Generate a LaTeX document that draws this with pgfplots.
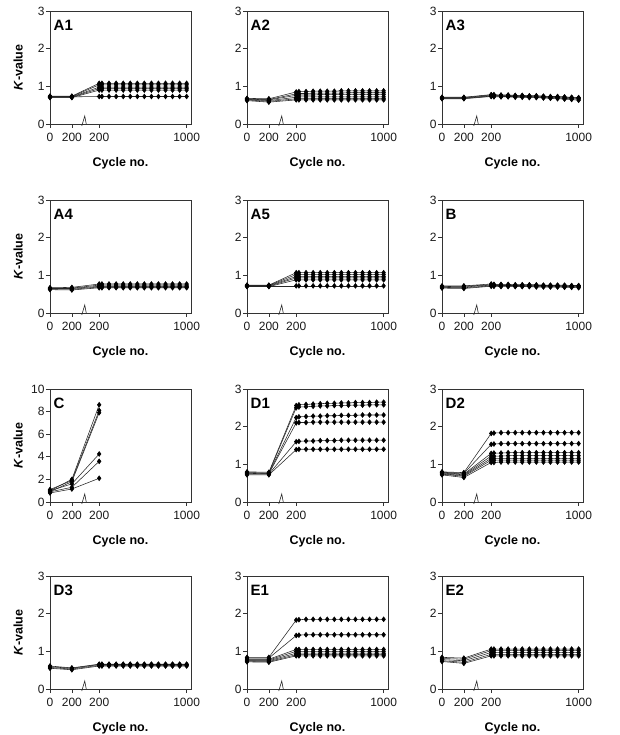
\documentclass[border=0pt]{standalone}
\usepackage{fontspec}
\setmainfont{Liberation Sans}
\usepackage{pgfplots}
\usepackage{pgfplotstable}
\pgfplotsset{compat=1.18}

% x = axis position: 0 and 200 before the break; cycle+250 after the break
\pgfplotstableread{
x s1 s2 s3 s4 s5 s6
0 0.74 0.73 0.72 0.71 0.70 0.72
200 0.74 0.73 0.72 0.71 0.70 0.72
450 1.08 1.04 0.98 0.94 0.90 0.73
475 1.08 1.04 0.98 0.94 0.90 0.73
540 1.08 1.04 0.98 0.94 0.90 0.73
605 1.08 1.04 0.98 0.94 0.90 0.73
670 1.08 1.04 0.98 0.94 0.90 0.73
734 1.08 1.04 0.98 0.94 0.90 0.73
799 1.08 1.04 0.98 0.94 0.90 0.73
863 1.08 1.04 0.98 0.94 0.90 0.73
928 1.08 1.04 0.98 0.94 0.90 0.73
992 1.08 1.04 0.98 0.94 0.90 0.73
1057 1.08 1.04 0.98 0.94 0.90 0.73
1121 1.08 1.04 0.98 0.94 0.90 0.73
1186 1.08 1.04 0.98 0.94 0.90 0.73
1250 1.08 1.04 0.98 0.94 0.90 0.73
}\tAone
\pgfplotstableread{
x s1 s2 s3 s4 s5 s6
0 0.68 0.67 0.66 0.65 0.64 0.62
200 0.67 0.65 0.64 0.62 0.60 0.58
450 0.85 0.80 0.76 0.71 0.67 0.64
475 0.86 0.81 0.77 0.72 0.67 0.64
540 0.86 0.81 0.77 0.72 0.67 0.64
605 0.87 0.82 0.77 0.72 0.67 0.64
670 0.87 0.82 0.78 0.72 0.67 0.64
734 0.87 0.82 0.78 0.72 0.67 0.64
799 0.87 0.82 0.78 0.72 0.67 0.64
863 0.88 0.82 0.78 0.72 0.67 0.64
928 0.88 0.83 0.78 0.72 0.67 0.64
992 0.88 0.83 0.78 0.72 0.67 0.64
1057 0.88 0.83 0.78 0.72 0.67 0.64
1121 0.88 0.83 0.78 0.72 0.67 0.64
1186 0.88 0.83 0.78 0.72 0.67 0.64
1250 0.88 0.83 0.78 0.72 0.67 0.64
}\tAtwo
\pgfplotstableread{
x s1 s2 s3 s4 s5
0 0.71 0.70 0.69 0.68 0.67
200 0.71 0.70 0.69 0.68 0.67
450 0.78 0.77 0.75 0.74 0.73
475 0.78 0.76 0.75 0.74 0.72
540 0.77 0.76 0.75 0.73 0.72
605 0.77 0.76 0.74 0.73 0.72
670 0.76 0.75 0.74 0.73 0.71
734 0.76 0.75 0.73 0.72 0.71
799 0.75 0.74 0.73 0.72 0.70
863 0.75 0.74 0.72 0.71 0.70
928 0.74 0.73 0.72 0.70 0.69
992 0.73 0.72 0.71 0.70 0.68
1057 0.73 0.72 0.70 0.69 0.67
1121 0.72 0.71 0.69 0.68 0.66
1186 0.71 0.70 0.69 0.67 0.65
1250 0.70 0.69 0.68 0.66 0.63
}\tAthree
\pgfplotstableread{
x s1 s2 s3 s4 s5
0 0.67 0.66 0.65 0.64 0.62
200 0.68 0.66 0.65 0.63 0.61
450 0.77 0.74 0.71 0.69 0.67
475 0.77 0.74 0.71 0.69 0.67
540 0.77 0.74 0.71 0.69 0.67
605 0.77 0.74 0.71 0.69 0.67
670 0.77 0.74 0.71 0.69 0.67
734 0.77 0.74 0.71 0.69 0.67
799 0.77 0.74 0.71 0.69 0.67
863 0.77 0.74 0.71 0.69 0.67
928 0.77 0.74 0.71 0.69 0.67
992 0.77 0.74 0.71 0.69 0.67
1057 0.77 0.74 0.71 0.69 0.67
1121 0.77 0.74 0.71 0.69 0.67
1186 0.77 0.74 0.71 0.69 0.67
1250 0.77 0.74 0.71 0.69 0.67
}\tAfour
\pgfplotstableread{
x s1 s2 s3 s4 s5 s6
0 0.74 0.73 0.72 0.71 0.70 0.72
200 0.74 0.73 0.72 0.71 0.70 0.72
450 1.07 1.02 0.97 0.93 0.88 0.72
475 1.07 1.02 0.97 0.93 0.88 0.72
540 1.07 1.02 0.97 0.93 0.88 0.72
605 1.07 1.02 0.97 0.93 0.88 0.72
670 1.07 1.02 0.97 0.93 0.88 0.72
734 1.07 1.02 0.97 0.93 0.88 0.72
799 1.07 1.02 0.97 0.93 0.88 0.72
863 1.07 1.02 0.97 0.93 0.88 0.72
928 1.07 1.02 0.97 0.93 0.88 0.72
992 1.07 1.02 0.97 0.93 0.88 0.72
1057 1.07 1.02 0.97 0.93 0.88 0.72
1121 1.07 1.02 0.97 0.93 0.88 0.72
1186 1.07 1.02 0.97 0.93 0.88 0.72
1250 1.07 1.02 0.97 0.93 0.88 0.72
}\tAfive
\pgfplotstableread{
x s1 s2 s3 s4 s5
0 0.72 0.70 0.69 0.68 0.66
200 0.72 0.71 0.69 0.67 0.65
450 0.77 0.75 0.74 0.72 0.71
475 0.76 0.75 0.73 0.72 0.71
540 0.76 0.75 0.73 0.72 0.70
605 0.76 0.74 0.73 0.72 0.70
670 0.75 0.74 0.73 0.71 0.70
734 0.75 0.74 0.73 0.71 0.70
799 0.75 0.74 0.72 0.71 0.70
863 0.75 0.73 0.72 0.71 0.69
928 0.74 0.73 0.72 0.71 0.69
992 0.74 0.73 0.72 0.70 0.69
1057 0.74 0.73 0.72 0.70 0.69
1121 0.74 0.72 0.71 0.70 0.68
1186 0.73 0.72 0.71 0.70 0.68
1250 0.73 0.72 0.71 0.69 0.67
}\tB
\pgfplotstableread{
x s1 s2 s3 s4 s5 s6
0 1.00 1.10 0.90 1.00 0.90 0.80
200 2.00 1.90 1.80 1.60 1.30 1.15
450 8.60 8.10 7.90 4.25 3.60 2.10
}\tC
\pgfplotstableread{
x s1 s2 s3 s4 s5 s6
0 0.80 0.78 0.77 0.76 0.74 0.72
200 0.79 0.77 0.76 0.75 0.74 0.72
450 2.56 2.50 2.24 2.10 1.60 1.39
475 2.58 2.52 2.26 2.11 1.61 1.40
540 2.59 2.53 2.27 2.11 1.62 1.40
605 2.60 2.54 2.28 2.12 1.62 1.40
670 2.61 2.55 2.28 2.12 1.63 1.40
734 2.62 2.55 2.29 2.12 1.63 1.40
799 2.62 2.56 2.29 2.12 1.63 1.40
863 2.63 2.56 2.30 2.12 1.64 1.40
928 2.63 2.57 2.30 2.12 1.64 1.40
992 2.64 2.57 2.30 2.12 1.64 1.40
1057 2.64 2.57 2.31 2.12 1.64 1.40
1121 2.64 2.58 2.31 2.12 1.64 1.40
1186 2.65 2.58 2.31 2.12 1.64 1.40
1250 2.65 2.58 2.31 2.12 1.64 1.40
}\tDone
\pgfplotstableread{
x s1 s2 s3 s4 s5 s6 s7
0 0.80 0.79 0.78 0.77 0.75 0.74 0.72
200 0.78 0.76 0.74 0.72 0.70 0.68 0.65
450 1.82 1.53 1.29 1.22 1.16 1.11 1.05
475 1.83 1.54 1.30 1.22 1.16 1.11 1.05
540 1.84 1.55 1.30 1.22 1.16 1.11 1.06
605 1.84 1.55 1.31 1.23 1.16 1.11 1.06
670 1.84 1.55 1.31 1.23 1.16 1.11 1.06
734 1.84 1.55 1.31 1.23 1.16 1.11 1.06
799 1.84 1.55 1.31 1.23 1.16 1.11 1.06
863 1.84 1.55 1.31 1.23 1.16 1.11 1.06
928 1.84 1.55 1.31 1.23 1.16 1.11 1.06
992 1.84 1.55 1.31 1.23 1.16 1.11 1.06
1057 1.84 1.55 1.31 1.23 1.16 1.11 1.06
1121 1.84 1.55 1.31 1.23 1.16 1.11 1.06
1186 1.84 1.55 1.31 1.23 1.16 1.11 1.06
1250 1.84 1.55 1.31 1.23 1.16 1.11 1.06
}\tDtwo
\pgfplotstableread{
x s1 s2 s3 s4
0 0.61 0.59 0.57 0.55
200 0.56 0.55 0.53 0.51
450 0.66 0.65 0.63 0.61
475 0.66 0.65 0.63 0.61
540 0.66 0.65 0.63 0.61
605 0.66 0.65 0.63 0.61
670 0.66 0.65 0.63 0.61
734 0.66 0.65 0.63 0.61
799 0.66 0.65 0.63 0.61
863 0.66 0.65 0.63 0.61
928 0.66 0.65 0.63 0.61
992 0.66 0.65 0.63 0.61
1057 0.66 0.65 0.63 0.61
1121 0.66 0.65 0.63 0.61
1186 0.66 0.65 0.63 0.61
1250 0.66 0.65 0.63 0.61
}\tDthree
\pgfplotstableread{
x s1 s2 s3 s4 s5 s6 s7
0 0.84 0.82 0.79 0.77 0.75 0.74 0.72
200 0.84 0.82 0.79 0.77 0.75 0.73 0.71
450 1.83 1.42 1.05 1.00 0.95 0.91 0.88
475 1.84 1.43 1.05 1.00 0.95 0.91 0.88
540 1.85 1.44 1.05 1.00 0.95 0.91 0.88
605 1.85 1.44 1.05 1.00 0.95 0.91 0.88
670 1.85 1.44 1.05 1.00 0.95 0.91 0.88
734 1.85 1.44 1.05 1.00 0.95 0.91 0.88
799 1.85 1.44 1.05 1.00 0.95 0.91 0.88
863 1.85 1.44 1.05 1.00 0.95 0.91 0.88
928 1.85 1.44 1.05 1.00 0.95 0.91 0.88
992 1.85 1.44 1.05 1.00 0.95 0.91 0.88
1057 1.85 1.44 1.05 1.00 0.95 0.91 0.88
1121 1.85 1.44 1.05 1.00 0.95 0.91 0.88
1186 1.85 1.44 1.05 1.00 0.95 0.91 0.88
1250 1.85 1.44 1.05 1.00 0.95 0.91 0.88
}\tEone
\pgfplotstableread{
x s1 s2 s3 s4 s5
0 0.84 0.81 0.78 0.75 0.73
200 0.82 0.79 0.75 0.71 0.68
450 1.06 1.02 0.97 0.92 0.88
475 1.06 1.02 0.97 0.92 0.88
540 1.06 1.02 0.97 0.92 0.88
605 1.06 1.02 0.97 0.92 0.88
670 1.06 1.02 0.97 0.92 0.88
734 1.06 1.02 0.97 0.92 0.88
799 1.06 1.02 0.97 0.92 0.88
863 1.06 1.02 0.97 0.92 0.88
928 1.06 1.02 0.97 0.92 0.88
992 1.06 1.02 0.97 0.92 0.88
1057 1.06 1.02 0.97 0.92 0.88
1121 1.06 1.02 0.97 0.92 0.88
1186 1.06 1.02 0.97 0.92 0.88
1250 1.06 1.02 0.97 0.92 0.88
}\tEtwo

\pgfplotsset{
  panel/.style={
    scale only axis, width=141pt, height=113pt,
    anchor=south west,
    xmin=0, xmax=1290, ymin=0, ymax=3,
    xtick={0,200,450,1250}, xticklabels={0,200,200,1000},
    ytick={0,1,2,3},
    tick pos=left, tick align=outside, major tick length=4pt,
    axis line style={line width=0.7pt, black!80},
    every tick/.style={line width=0.7pt, black!80},
    /pgf/number format/assume math mode=true,
    ticklabel style={font=\fontsize{12}{14}\selectfont, text=black!90},
    xticklabel style={yshift=-1.5pt},
    yticklabel style={xshift=2pt},
    xlabel={Cycle no.},
    xlabel style={font=\fontsize{12.5}{14}\selectfont\bfseries, at={(axis description cs:0.5,0)}, anchor=base, yshift=-42.5pt},
    clip=false,
  },
  ser/.style={black!85, line width=0.55pt, mark=diamond*, mark size=2.4pt, mark options={solid, fill=black, draw=black}},
  klabel/.style={
    ylabel={\textit{K}-value},
    ylabel style={font=\fontsize{12.5}{14}\selectfont\bfseries, at={(axis description cs:-0.225,0.5)}, anchor=center},
  },
}
\newcommand{\tag}[1]{\node[anchor=base west, inner sep=0pt, font=\fontsize{15}{16}\selectfont\bfseries] at (rel axis cs:0.025,0.83) {#1};}
\newcommand{\brk}{\draw[line width=0.6pt, black!85] (axis cs:295,0) ++(-0.5pt,-2pt) -- ++(3pt,10pt) -- ++(1.5pt,-8pt);}

\begin{document}
\begin{tikzpicture}
\useasboundingbox (0pt,0pt) rectangle (619pt,735pt);
% Row 1
\begin{axis}[panel, klabel, at={(50pt,611pt)}]
\pgfplotsinvokeforeach{1,...,6}{\addplot[ser] table[x=x,y=s#1]{\tAone};}
\tag{A1}\brk
\end{axis}
\begin{axis}[panel, at={(247pt,611pt)}]
\pgfplotsinvokeforeach{1,...,6}{\addplot[ser] table[x=x,y=s#1]{\tAtwo};}
\tag{A2}\brk
\end{axis}
\begin{axis}[panel, at={(442pt,611pt)}]
\pgfplotsinvokeforeach{1,...,5}{\addplot[ser] table[x=x,y=s#1]{\tAthree};}
\tag{A3}\brk
\end{axis}
% Row 2
\begin{axis}[panel, klabel, at={(50pt,422pt)}]
\pgfplotsinvokeforeach{1,...,5}{\addplot[ser] table[x=x,y=s#1]{\tAfour};}
\tag{A4}\brk
\end{axis}
\begin{axis}[panel, at={(247pt,422pt)}]
\pgfplotsinvokeforeach{1,...,6}{\addplot[ser] table[x=x,y=s#1]{\tAfive};}
\tag{A5}\brk
\end{axis}
\begin{axis}[panel, at={(442pt,422pt)}]
\pgfplotsinvokeforeach{1,...,5}{\addplot[ser] table[x=x,y=s#1]{\tB};}
\tag{B}\brk
\end{axis}
% Row 3
\begin{axis}[panel, klabel, at={(50pt,233pt)}, ymax=10, ytick={0,2,4,6,8,10}]
\pgfplotsinvokeforeach{1,...,6}{\addplot[ser] table[x=x,y=s#1]{\tC};}
\tag{C}\brk
\end{axis}
\begin{axis}[panel, at={(247pt,233pt)}]
\pgfplotsinvokeforeach{1,...,6}{\addplot[ser] table[x=x,y=s#1]{\tDone};}
\tag{D1}\brk
\end{axis}
\begin{axis}[panel, at={(442pt,233pt)}]
\pgfplotsinvokeforeach{1,...,7}{\addplot[ser] table[x=x,y=s#1]{\tDtwo};}
\tag{D2}\brk
\end{axis}
% Row 4
\begin{axis}[panel, klabel, at={(50pt,46pt)}]
\pgfplotsinvokeforeach{1,...,4}{\addplot[ser] table[x=x,y=s#1]{\tDthree};}
\tag{D3}\brk
\end{axis}
\begin{axis}[panel, at={(247pt,46pt)}]
\pgfplotsinvokeforeach{1,...,7}{\addplot[ser] table[x=x,y=s#1]{\tEone};}
\tag{E1}\brk
\end{axis}
\begin{axis}[panel, at={(442pt,46pt)}]
\pgfplotsinvokeforeach{1,...,5}{\addplot[ser] table[x=x,y=s#1]{\tEtwo};}
\tag{E2}\brk
\end{axis}
\end{tikzpicture}
\end{document}
